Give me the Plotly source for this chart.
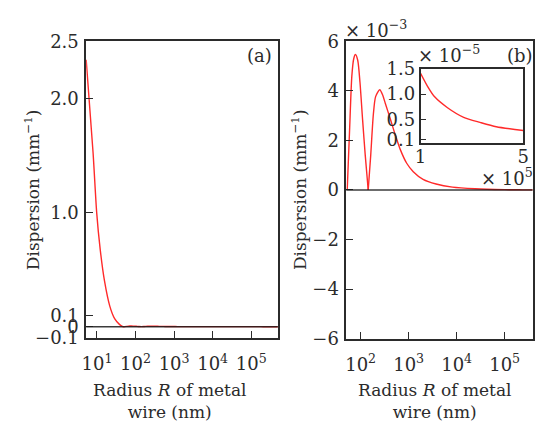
import plotly.graph_objects as go

# Dispersion of the wire mode versus metal-wire radius
radius_nm = [5.25, 7.94, 9.83, 12.1, 15.6, 21.5, 28.7, 38.2, 46.5,
             52.5, 58.8, 65.5, 71.9, 77.9, 86.9, 96.8, 110, 124.7, 143.6,
             162, 184, 205, 250, 290, 328, 415, 525, 664, 910, 1247, 1995,
             3724, 8170, 24400,
             1.0e5, 1.29e5, 1.54e5, 2.05e5, 2.68e5, 3.32e5, 3.95e5, 5.0e5]
dispersion_mm = [2.34, 1.52, 1.0, 0.68, 0.405, 0.18, 0.07, 0.02, 0.0,
                 0.0, 2.42e-3, 4.6e-3, 5.31e-3, 5.47e-3, 5.24e-3, 4.35e-3, 2.81e-3, 1.4e-3, 0.0,
                 1.4e-3, 3.06e-3, 3.77e-3, 4.05e-3, 3.82e-3, 3.48e-3, 2.87e-3, 2.23e-3, 1.65e-3, 1.08e-3, 0.74e-3, 0.43e-3,
                 0.24e-3, 0.115e-3, 0.05e-3,
                 1.41e-5, 1.137e-5, 0.95e-5, 0.73e-5, 0.54e-5, 0.44e-5, 0.355e-5, 0.28e-5]

a_yticks = [-0.1, 0, 0.1, 1.0, 2.0, 2.5]
a_yticktext = ["\u22120.1", "0", "0.1", "1.0", "2.0", "2.5"]
b_yticks = [-6, -4, -2, 0, 2, 4, 6]
inset_yticks = [0.1, 0.5, 1.0, 1.5]
inset_yticktext = ["0.1", "0.5", "1.0", "1.5"]
inset_xticks = [1, 5]
decades_a = [1, 2, 3, 4, 5]
decades_b = [2, 3, 4, 5]

W, H = 539, 427
FONT = "DejaVu Serif"
INK = "#2b2b2b"
RED = "#ff2a2a"


def px_x(p):
    return p / W


def px_y(p):
    return 1 - p / H


def split_at_zeros(xs, ys):
    """Break the curve at its zero crossings so each arch is smoothed on its own
    and the cusps stay sharp."""
    pieces, cur_x, cur_y = [], [], []
    for x, y in zip(xs, ys):
        cur_x.append(x)
        cur_y.append(y)
        if y == 0 and len(cur_x) > 1:
            pieces.append((cur_x, cur_y))
            cur_x, cur_y = [x], [y]
    if len(cur_x) > 1:
        pieces.append((cur_x, cur_y))
    return pieces


# panel (b) shows the part from ~50 nm on, scaled by 1e3
b_r = [r for r in radius_nm if r >= 50]
b_d = [d * 1e3 for r, d in zip(radius_nm, dispersion_mm) if r >= 50]
# inset: 1e5..5e5 nm, in units of 1e5 nm and 1e-5 mm^-1
i_r = [r / 1e5 for r in radius_nm if r >= 1e5]
i_d = [d * 1e5 for r, d in zip(radius_nm, dispersion_mm) if r >= 1e5]

fig = go.Figure()
line = dict(color=RED, width=1.4, shape="spline", smoothing=0.7)
for xs, ys, xa, ya in ((radius_nm, dispersion_mm, "x", "y"),
                       (b_r, b_d, "x2", "y2"),
                       (i_r, i_d, "x3", "y3")):
    for px_, py_ in split_at_zeros(xs, ys):
        fig.add_trace(go.Scatter(x=px_, y=py_, mode="lines", line=line,
                                 xaxis=xa, yaxis=ya, showlegend=False,
                                 hoverinfo="skip"))

tickfont = dict(family=FONT, size=18, color=INK)
common = dict(showgrid=False, zeroline=False, showline=True, linecolor=INK,
              linewidth=1.6, mirror=True, ticks="inside", ticklen=7,
              tickwidth=1.4, tickcolor=INK, tickfont=tickfont)

fig.update_layout(
    width=W, height=H,
    margin=dict(l=0, r=0, t=0, b=0),
    paper_bgcolor="white", plot_bgcolor="white",
    xaxis=dict(type="log", range=[0.72, 5.69], domain=[px_x(82), px_x(278)],
               anchor="y", tickvals=[10 ** k for k in decades_a],
               ticktext=[f"10<sup>{k}</sup>" for k in decades_a],
               ticklabelstandoff=9, **common),
    yaxis=dict(range=[-0.1, 2.5], domain=[px_y(344), px_y(32)], anchor="x",
               tickvals=a_yticks, ticktext=a_yticktext, ticklabelstandoff=2,
               **common),
    xaxis2=dict(type="log", range=[1.70, 5.58], domain=[px_x(348), px_x(538.5)],
                anchor="y2", tickvals=[10 ** k for k in decades_b],
                ticktext=[f"10<sup>{k}</sup>" for k in decades_b],
                ticklabelstandoff=9, **common),
    yaxis2=dict(range=[-6, 6], domain=[px_y(344.5), px_y(32)], anchor="x2",
                tickvals=b_yticks, ticklabelstandoff=2, **common),
    xaxis3=dict(range=[1, 5], domain=[px_x(424), px_x(529)], anchor="y3",
                tickvals=inset_xticks, ticklabelstandoff=-4,
                **{**common, "ticklen": 0}),
    yaxis3=dict(range=[0.03, 1.5], domain=[px_y(139), px_y(60.7)], anchor="x3",
                tickvals=inset_yticks, ticktext=inset_yticktext,
                **{**common, "ticklen": 6}),
)

# zero reference lines in both main panels
for xr, yr in (("x domain", "y"), ("x2 domain", "y2")):
    fig.add_shape(type="line", xref=xr, yref=yr, x0=0, x1=1, y0=0, y1=0,
                  line=dict(color="#1a1a1a", width=1.5), opacity=0.85)

txt = dict(family=FONT, size=17, color=INK)
notes = [
    ("(a)", 259.5, 47, 0, 18),
    ("(b)", 526, 47, 0, 18),
    ("\u00d7 10<sup>\u22123</sup>", 378, 19, 0, 18),
    ("\u00d7 10<sup>\u22125</sup>", 453, 45, 0, 18),
    ("\u00d7 10<sup>5</sup>", 512, 175, 0, 18),
    ("Dispersion (mm<sup>\u22121</sup>)", 26, 188, -90, 17),
    ("Dispersion (mm<sup>\u22121</sup>)", 299, 188, -90, 17),
    ("Radius <i>R</i> of metal<br>wire (nm)", 167, 410, 0, 17),
    ("Radius <i>R</i> of metal<br>wire (nm)", 438, 410, 0, 17),
]
for text, x, y, ang, size in notes:
    fig.add_annotation(text=text, x=px_x(x), y=px_y(y), xref="paper", yref="paper",
                       xanchor="center", yanchor="middle", showarrow=False,
                       textangle=ang, font={**txt, "size": size})

fig.write_html("out.html")
